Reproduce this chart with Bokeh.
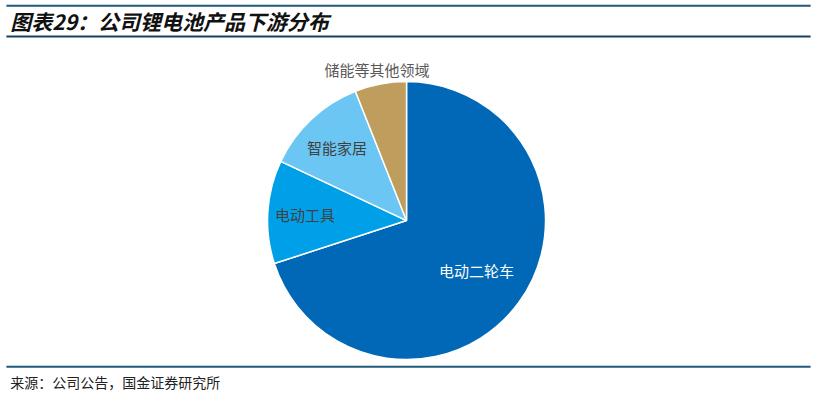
import math
from bokeh.plotting import figure
from bokeh.models import ColumnDataSource, Range1d
from bokeh.core.properties import value
from bokeh.embed import file_html
from bokeh.resources import INLINE

# ---- data ----
categories = ["电动二轮车", "电动工具", "智能家居", "储能等其他领域"]
shares = [70, 12, 12, 6]
colors = ["#0068B7", "#00A0E9", "#6CC6F3", "#BF9D5D"]
label_colors = ["#FFFFFF", "#404040", "#404040", "#595959"]
label_radius = [0.62, 0.73, 0.73, 1.13]
title_text = "图表29：公司锂电池产品下游分布"
source_text = "来源：公司公告，国金证券研究所"

W, H = 815, 395
REF_W, REF_H = 831, 411
FONT = value("Noto Sans CJK SC")


def Y(yref):
    # reference-picture y (top-down) -> data y (bottom-up)
    return REF_H - yref


p = figure(width=W, height=H, output_backend="svg", toolbar_location=None,
           x_range=Range1d(0, REF_W), y_range=Range1d(0, REF_H),
           min_border=0)
p.axis.visible = False
p.grid.visible = False
p.outline_line_color = None
p.background_fill_color = "white"
p.border_fill_color = "white"

# ---- pie ----
cx, cy, R = 414, Y(229), 142
R_px = 139
total = float(sum(shares))
starts, ends, lx, ly = [], [], [], []
cum = 0.0
for s, lr in zip(shares, label_radius):
    a0 = math.pi / 2 - 2 * math.pi * cum / total
    cum += s
    a1 = math.pi / 2 - 2 * math.pi * cum / total
    starts.append(a1)
    ends.append(a0)
    mid = (a0 + a1) / 2
    lx.append(cx + lr * R * math.cos(mid))
    ly.append(cy + lr * R * math.sin(mid))

src = ColumnDataSource(dict(cat=categories, share=shares, start=starts, end=ends,
                            color=colors, lcolor=label_colors, lx=lx, ly=ly))
p.wedge(x=cx, y=cy, radius=R_px, radius_units="screen", start_angle="start", end_angle="end",
        fill_color="color", line_color="white", line_width=1.5, source=src)
p.text(x="lx", y="ly", text="cat", source=src, text_align="center", text_baseline="middle",
       text_color="lcolor", text_font=FONT, text_font_size="15px")

# ---- title, rules, footer ----
p.line(x=[6, 826], y=[Y(5.5), Y(5.5)], line_color="#1F5A7A", line_width=2)
p.line(x=[6, 826], y=[Y(37.5), Y(37.5)], line_color="#173F5F", line_width=2)
p.line(x=[6, 826], y=[Y(381), Y(381)], line_color="#1F5A7A", line_width=2)

p.text(x=[10], y=[Y(21)], text=[title_text], text_align="left", text_baseline="middle",
       text_color="#111111", text_font=FONT, text_font_size="21px",
       text_font_style="bold italic")
p.text(x=[10], y=[Y(397)], text=[source_text], text_align="left", text_baseline="middle",
       text_color="#222222", text_font=FONT, text_font_size="14px")

open("out.html", "w").write(file_html(p, INLINE))
